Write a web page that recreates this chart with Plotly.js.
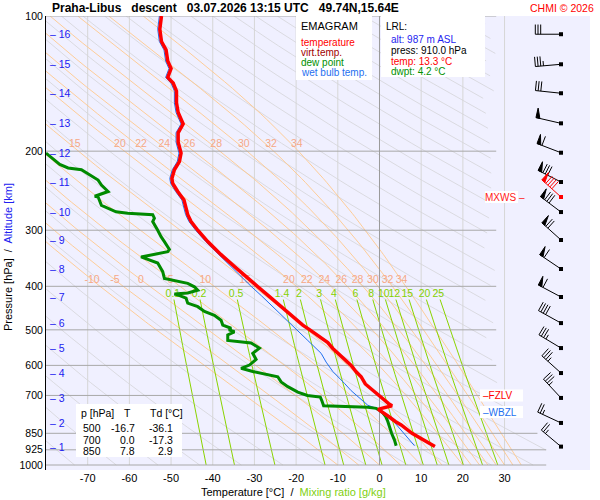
<!DOCTYPE html>
<html><head><meta charset="utf-8">
<script src="https://cdn.plot.ly/plotly-3.0.1.min.js"></script>
<style>html,body{margin:0;padding:0;background:#fff}#chart{width:600px;height:500px}</style>
</head><body><div id="chart"></div>
<script>
// ================= DATA =================
// Temperature profile [hPa], [°C]
const T_P   = [910,880,850,814,800,780,760,752,748,742,738,730,720,710,700,680,660,636,620,600,580,569,550,534,524,510,500,488,470,444,420,400,380,368,362,340,318,300,287,277,267,257,246,236,230,220,211,202,191,182,174,164,156,147,141,137,131,126,119,114,107,100];
const T_VAL = [13.3,10.6,7.8,5.2,3.8,2.2,0.6,-0.3,0.5,2.5,3.0,2.2,1.4,0.6,0.0,-2.0,-3.4,-4.4,-5.6,-6.8,-8.6,-9.6,-11.2,-12.4,-13.6,-15.2,-16.7,-18.4,-20.4,-23.5,-26.6,-29.3,-32.2,-34.0,-34.7,-38.0,-41.2,-43.6,-45.2,-46.0,-46.5,-46.9,-48.4,-49.6,-49.8,-49.2,-48.0,-47.6,-48.3,-48.3,-47.1,-48.3,-48.7,-48.7,-49.5,-50.8,-50.0,-50.8,-51.2,-52.3,-52.7,-52.3];
// Dew point profile
const TD_P   = [906,880,850,820,800,780,765,755,748,744,741,738,720,706,700,688,669,653,636,625,619,609,599,582,564,549,535,528,513,505,500,496,488,476,464,455,444,436,425,418,416,414,408,401,394,384,371,355,346,344,335,331,318,310,300,287,282,277,275,273,264,253,252,246,238,232,220,218,214,207,202];
const TD_VAL = [4.0,3.6,2.9,2.4,2.0,1.5,0.8,0.0,-0.8,-2.8,-7.6,-13.4,-13.8,-14.2,-17.3,-19.6,-22.0,-23.6,-24.4,-28.8,-30.4,-33.2,-31.2,-29.6,-30.4,-28.8,-30.8,-36.4,-36.4,-34.8,-36.1,-35.6,-37.6,-38.0,-39.6,-42.0,-43.6,-46.0,-46.4,-48.4,-49.2,-46.0,-43.6,-44.4,-46.0,-51.6,-52.0,-53.2,-56.4,-57.2,-50.8,-50.4,-51.6,-52.4,-53.2,-54.4,-54.0,-54.4,-60.4,-63.2,-66.7,-67.5,-68.3,-65.1,-66.7,-67.5,-71.5,-74.7,-76.7,-78.7,-80.0];
// Wet bulb temperature profile
const TW_P   = [906,870,834,800,770,750,736,715,700,683,658,619,590,564,528,500,470,444,420,400,368,340,318,300,287,277,257,246,236,230,220,211,202,191,182,174,164,156,147,141,137,131,126,119,114,107,100];
const TW_VAL = [8.4,6.8,5.2,3.4,1.4,-0.4,-2.8,-4.4,-5.6,-6.8,-8.4,-11.2,-12.8,-14.0,-17.2,-19.8,-23.0,-25.7,-28.3,-30.8,-34.8,-38.4,-41.7,-44.1,-45.7,-46.5,-47.4,-48.9,-50.1,-50.3,-49.7,-48.5,-48.1,-48.8,-48.8,-47.6,-48.8,-49.2,-49.2,-50.0,-51.3,-50.5,-51.3,-51.7,-52.8,-53.2,-52.8];
// Altitude marks [km] and their pressure [hPa]
const ALT_KM = [1,2,3,4,5,6,7,8,9,10,11,12,13,14,15,16];
const ALT_P  = [910,806,709,624,549,483,422.5,366,315.4,273.3,234.3,201.6,173.4,148.6,128.1,109.8];
// Wind at each altitude mark: direction [deg], speed [kt]
const WIND_DIR = [310,295,317,312,301,299,298,304,312,307,297,291,283,276,265,270];
const WIND_KT  = [25,25,35,35,35,40,60,60,70,80,80,60,50,30,35,30];
// Maximum wind
const MXWS_P = 253, MXWS_DIR = 312, MXWS_KT = 90;
// Freezing level and wet-bulb zero level [hPa]
const FZLV_P = 700, WBZL_P = 762;
// Table of standard levels
const TAB_P  = [500,700,850];
const TAB_T  = ['-16.7','0.0','7.8'];
const TAB_TD = ['-36.1','-17.3','2.9'];
// Diagram grid
const ISOBARS    = [100,200,300,400,500,600,700,850,925,1000];
const ISOTHERMS  = [-70,-60,-50,-40,-30,-20,-10,0,10,20,30];
const X_TICKS    = [-70,-60,-50,-40,-30,-20,-10,0,10,20,30];
const THETA_W    = [-10,-5,0,5,10,15,20,22,24,26,28,30,32,34];
const MIX_RATIO  = [0.1,0.2,0.5,1.4,2,3,4,6,8,10,12,15,20,25];
const MIX_LABELS = ['0.1','0.2','0.5','1.4','2','3','4','6','8','10','12','15','20','25'];

// ================= LAYOUT GEOMETRY =================
const FONT = 'Liberation Sans, Arial, Helvetica, sans-serif';
const L = 46, TOP = 16, PW = 544, PH = 454;
const XR = [-80, 50.5];
const YR = [2 + PH/449, 2];
const pxX = PW/(XR[1]-XR[0]);
const pxDec = PH/(YR[0]-YR[1]);
const fx = px => (px-L)/PW;
const fy = py => (TOP+PH-py)/PH;
const BARB_T = XR[0] + (561-L)/pxX;

function tMax(p){ // right limit of the diagram grid
  if (p <= 650) return 28;
  if (p >= 900) return 40;
  return 28 + 12*Math.log(p/650)/Math.log(900/650);
}

// ================= BACKGROUND LINES =================
const traces = [];
function pushLines(xs, ys, color, width){
  traces.push({type:'scatter', mode:'lines', x:xs, y:ys, line:{color:color, width:width}, hoverinfo:'skip'});
}
// isotherms
{
  const xs=[], ys=[];
  ISOTHERMS.forEach(t=>{ if(t!==0){ xs.push(t,t,null); ys.push(1000,100,null);} });
  pushLines(xs, ys, '#d6d6d6', 1);
}
// dry adiabats
{
  const xs=[], ys=[];
  for (let th=200; th<=640; th+=10){
    for (let i=0;i<=60;i++){
      const p = 1000*Math.pow(10,-i/60);
      const T = th*Math.pow(p/1000,0.2857)-273.15;
      if (T<=tMax(p)){ xs.push(T); ys.push(p);} else { xs.push(null); ys.push(null);}
    }
    xs.push(null); ys.push(null);
  }
  pushLines(xs, ys, '#d4d4d8', 0.8);
}
// pseudo-adiabats
function esat(Tc){ return 6.112*Math.exp(17.67*Tc/(Tc+243.5)); }
function dTdp(T,p){
  const Rd=287.04, cp=1005.7, Lv=2.501e6, eps=0.622;
  const es=esat(T-273.15), rs=eps*es/(p-es);
  return (Rd*T+Lv*rs)/(p*(cp+Lv*Lv*rs*eps/(Rd*T*T)));
}
const moist = {};
{
  const xs=[], ys=[];
  THETA_W.forEach(tw=>{
    let T=tw+273.15, p=1000; const P=[p], TT=[tw];
    const dp=-2.5;
    while(p>100.01){
      const k1=dTdp(T,p); const k2=dTdp(T+k1*dp/2,p+dp/2);
      T+=k2*dp; p+=dp; P.push(p); TT.push(T-273.15);
    }
    moist[tw]={P:P,T:TT};
    for(let i=0;i<P.length;i+=2){
      if (TT[i]<=tMax(P[i])){ xs.push(TT[i]); ys.push(P[i]); } else { xs.push(null); ys.push(null); }
    }
    xs.push(null); ys.push(null);
  });
  pushLines(xs, ys, '#ffc88c', 0.9);
}
function interpT(P,TT,pt){
  for(let i=0;i<P.length-1;i++){
    if(P[i]>=pt && P[i+1]<=pt){ const f=(P[i]-pt)/(P[i]-P[i+1]); return TT[i]+f*(TT[i+1]-TT[i]); }
  }
  return null;
}
// mixing ratio lines
function mixT(w,p){ const e=w*p/(622+w); const a=Math.log(e/6.112); return 243.5*a/(17.67-a); }
{
  const xs=[], ys=[];
  MIX_RATIO.forEach(w=>{
    for(let i=0;i<=20;i++){ const p=1000-i*(1000-428)/20; xs.push(mixT(w,p)); ys.push(p); }
    xs.push(null); ys.push(null);
  });
  pushLines(xs, ys, '#8ad400', 1);
}
// isobars
{
  const xs=[], ys=[];
  ISOBARS.forEach(p=>{ xs.push(XR[0], tMax(p), null); ys.push(p,p,null); });
  pushLines(xs, ys, '#a8a8a8', 1);
}
// zero isotherm
pushLines([0,0],[1000,100],'#9a9a9a',1);

// labels of pseudo-adiabats
{
  const xs=[], ys=[], tx=[];
  THETA_W.forEach(tw=>{
    const m=moist[tw];
    const a=interpT(m.P,m.T,387); if(a!==null && a>-78){ xs.push(a); ys.push(387); tx.push(String(tw)); }
    const b=interpT(m.P,m.T,193); if(b!==null && b>-78){ xs.push(b+1.2); ys.push(193); tx.push(String(tw)); }
  });
  traces.push({type:'scatter', mode:'text', x:xs, y:ys, text:tx, textposition:'middle center',
    textfont:{family:FONT, size:10.5, color:'#f6a886'}, hoverinfo:'skip', cliponaxis:false});
}
// labels of mixing ratio lines
{
  const xs=[], ys=[];
  MIX_RATIO.forEach(w=>{ xs.push(mixT(w,416)); ys.push(416); });
  traces.push({type:'scatter', mode:'text', x:xs, y:ys, text:MIX_LABELS, textposition:'middle center',
    textfont:{family:FONT, size:10.5, color:'#84d000'}, hoverinfo:'skip', cliponaxis:false});
}

// ================= PROFILES =================
traces.push({type:'scatter', mode:'lines', x:TW_VAL, y:TW_P, line:{color:'#1e6ff0', width:1}, name:'wet bulb temp.'});
traces.push({type:'scatter', mode:'lines', x:TD_VAL, y:TD_P, line:{color:'#008a00', width:3}, name:'dew point'});
traces.push({type:'scatter', mode:'lines', x:T_VAL, y:T_P, line:{color:'#ff0000', width:3.5}, name:'temperature'});

// ================= WIND BARBS =================
function barb(p0, dir, kt, color){
  const lx=[], ly=[];
  const toD = (dx,dy)=>[BARB_T+dx/pxX, p0*Math.pow(10,dy/pxDec)];
  const r=dir*Math.PI/180, ux=Math.sin(r), uy=-Math.cos(r);
  const bx=-uy, by=ux;
  const LEN=25.7, BL=9.7, SP=2.7, PB=4;
  const seg=(x1,y1,x2,y2)=>{ const a=toD(x1,y1), b=toD(x2,y2); lx.push(a[0],b[0],null); ly.push(a[1],b[1],null); };
  seg(0,0,LEN*ux,LEN*uy);
  let rem=Math.round(kt/5)*5, s=LEN;
  const n50=Math.floor(rem/50); rem-=n50*50;
  const n10=Math.floor(rem/10); rem-=n10*10;
  for(let i=0;i<n50;i++){
    const pts=[[s*ux,s*uy],[s*ux+BL*bx,s*uy+BL*by],[(s-PB)*ux,(s-PB)*uy],[s*ux,s*uy]].map(q=>toD(q[0],q[1]));
    traces.push({type:'scatter', mode:'lines', x:pts.map(q=>q[0]), y:pts.map(q=>q[1]), fill:'toself', fillcolor:color,
      line:{color:color,width:1}, hoverinfo:'skip'});
    s-=PB+1.3;
  }
  for(let i=0;i<n10;i++){ seg(s*ux,s*uy,s*ux+BL*bx,s*uy+BL*by); s-=SP; }
  if(rem>=5){ seg(s*ux,s*uy,s*ux+BL/2*bx,s*uy+BL/2*by); }
  traces.push({type:'scatter', mode:'lines', x:lx, y:ly, line:{color:color,width:1}, hoverinfo:'skip'});
  traces.push({type:'scatter', mode:'markers', x:[BARB_T], y:[p0], marker:{symbol:'square', size:4, color:color}, hoverinfo:'skip'});
}
ALT_P.forEach((p,i)=>barb(p, WIND_DIR[i], WIND_KT[i], '#000000'));
barb(MXWS_P, MXWS_DIR, MXWS_KT, '#ff0000');

// ================= TEXT / BOXES =================
const ann = [];
const shapes = [];
function txt(px, py, text, size, color, anchor, extra){
  ann.push(Object.assign({xref:'paper', yref:'paper', x:fx(px), y:fy(py), text:text, showarrow:false,
    xanchor:anchor||'left', yanchor:'middle', font:{family:FONT, size:size, color:color||'#000'}}, extra||{}));
}
function box(x0,y0,x1,y1,fill){
  shapes.push({type:'rect', xref:'paper', yref:'paper', x0:fx(x0), x1:fx(x1), y0:fy(y1), y1:fy(y0),
    fillcolor:fill||'#ffffff', line:{width:0}, layer:'above'});
}
const NB='\u00a0\u00a0\u00a0';
txt(50, 8, '<b>Praha-Libus'+NB+'descent'+NB+'03.07.2026 13:15 UTC'+NB+'49.74N,15.64E</b>', 12, '#000');
txt(596, 8, 'CHMI © 2026', 10.5, '#ff0000', 'right');

// legend box
box(296,16,372,80);
txt(299, 26, 'EMAGRAM', 11, '#000');
txt(299, 42.5, 'temperature', 10, '#ff0000');
txt(299, 52.5, 'virt.temp.', 10, '#a00000');
txt(299, 62.5, 'dew point', 10, '#009000');
txt(299, 72.5, 'wet bulb temp.', 10, '#1e6ff0');
// LRL box
box(381,16,485,77);
txt(384, 27, 'LRL:', 10, '#000');
txt(389, 39.5, 'alt: 987 m ASL', 10, '#1e1ef0');
txt(389, 50.5, 'press: 910.0 hPa', 10, '#000');
txt(389, 61, 'temp: 13.3 °C', 10, '#ff0000');
txt(389, 71.5, 'dwpt: 4.2 °C', 10, '#009000');

// table
box(76,404,182,457);
txt(79, 413, 'p [hPa]', 10.5, '#000');
txt(127, 413, 'T', 10.5, '#000', 'center');
txt(148, 413, 'Td [°C]', 10.5, '#000');
TAB_P.forEach((p,i)=>{
  const y=428+i*11.5;
  txt(103, y, String(p), 10.5, '#000', 'right');
  txt(137, y, TAB_T[i], 10.5, '#000', 'right');
  txt(175, y, TAB_TD[i], 10.5, '#000', 'right');
});

// level markers (FZLV, WBZL, MXWS) placed at their pressure
function lvl(p, text, color, px, anchor, bx0, bx1){
  const py = TOP + (Math.log10(p)-YR[1])*pxDec;
  box(bx0, py-6, bx1, py+6);
  ann.push({xref:'paper', yref:'y', x:fx(px), y:Math.log10(p), text:text, showarrow:false, xanchor:anchor, yanchor:'middle',
    font:{family:FONT, size:10, color:color}});
}
lvl(FZLV_P, '–FZLV', '#ff0000', 481, 'left', 480, 523);
lvl(WBZL_P, '–WBZL', '#1e6ff0', 481, 'left', 480, 523);
lvl(MXWS_P, 'MXWS –', '#ff2020', 527, 'right', 485, 518);

// altitude marks
ALT_KM.forEach((k,i)=>{
  ann.push({xref:'paper', yref:'y', x:fx(48), y:Math.log10(ALT_P[i]), text:'– '+k, showarrow:false, xanchor:'left', yanchor:'middle',
    font:{family:FONT, size:10.5, color:'#2020f0'}});
});

// axis titles
txt(293, 492, 'Temperature [°C]  /  <span style="color:#80d010">Mixing ratio [g/kg]</span>', 11, '#000', 'center');
ann.push({xref:'paper', yref:'paper', x:fx(8), y:fy(257), text:'Pressure [hPa]  /  <span style="color:#2020f0">Altitude [km]</span>',
  textangle:-90, showarrow:false, xanchor:'center', yanchor:'middle', font:{family:FONT, size:11, color:'#000'}});

const layout = {
  width:600, height:500, autosize:false,
  margin:{l:L, r:600-L-PW, t:TOP, b:500-TOP-PH, pad:0},
  paper_bgcolor:'#ffffff', plot_bgcolor:'#f0f0ff',
  showlegend:false,
  xaxis:{range:XR, showgrid:false, zeroline:false, showline:false, ticks:'', tickvals:X_TICKS,
    ticktext:X_TICKS.map(String), tickfont:{family:FONT, size:11, color:'#000'}, fixedrange:true},
  yaxis:{type:'log', range:YR, showgrid:false, zeroline:false, showline:true, linecolor:'#000', linewidth:1, ticks:'',
    tickvals:ISOBARS, ticktext:ISOBARS.map(String), tickfont:{family:FONT, size:10.5, color:'#000'}, fixedrange:true},
  annotations:ann, shapes:shapes
};
Plotly.newPlot('chart', traces, layout, {displayModeBar:false, staticPlot:true});
</script></body></html>
